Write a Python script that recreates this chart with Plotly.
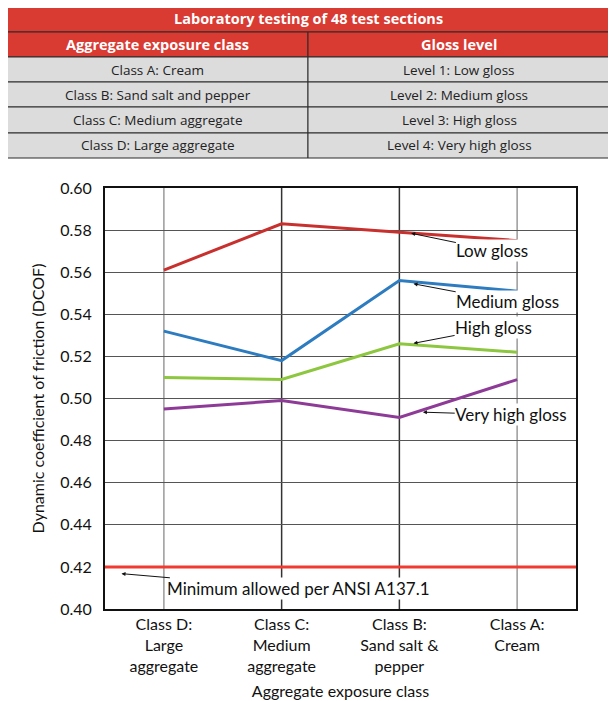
import plotly.graph_objects as go

# page body adds an 8px margin, so the figure is drawn 8px smaller
OFF = 8
W, H = 616 - OFF, 701 - OFF

# ---- data ----
classes = ["Class D:<br>Large<br>aggregate", "Class C:<br>Medium<br>aggregate",
           "Class B:<br>Sand salt &<br>pepper", "Class A:<br>Cream"]
low_gloss = [0.561, 0.583, 0.579, 0.575]
medium_gloss = [0.532, 0.518, 0.556, 0.551]
high_gloss = [0.510, 0.509, 0.526, 0.522]
very_high_gloss = [0.495, 0.499, 0.491, 0.509]
minimum_dcof = 0.42

table_title = "Laboratory testing of 48 test sections"
table_header = ["Aggregate exposure class", "Gloss level"]
exposure_rows = ["Class A: Cream", "Class B: Sand salt and pepper",
                 "Class C: Medium aggregate", "Class D: Large aggregate"]
gloss_rows = ["Level 1: Low gloss", "Level 2: Medium gloss",
              "Level 3: High gloss", "Level 4: Very high gloss"]
y_ticks = [0.40, 0.42, 0.44, 0.46, 0.48, 0.50, 0.52, 0.54, 0.56, 0.58, 0.60]


def py(px):
    # screen pixel row -> paper y
    return 1 - (px - OFF) / H


def pxx(px):
    return (px - OFF) / W


CHART_FONT = "Lato"
TABLE_FONT = "Open Sans"
RED_HDR = "#d93a31"
GRAY_CELL = "#dcdcdc"
EDGE = "#2a2a2a"

fig = go.Figure()

# ---- lines ----
series = [
    ("Low gloss", low_gloss, "#c8302e"),
    ("Medium gloss", medium_gloss, "#2d7cc0"),
    ("High gloss", high_gloss, "#8dc63f"),
    ("Very high gloss", very_high_gloss, "#8e3b98"),
]
for name, vals, col in series:
    fig.add_trace(go.Scatter(x=classes, y=vals, mode="lines", name=name,
                             line=dict(color=col, width=3), showlegend=False))

# vertical grid lines (outer ones lighter)
vcolors = ["#9a9a9a", "#333333", "#333333", "#9a9a9a"]
for i, vc in enumerate(vcolors):
    fig.add_shape(type="line", xref="x", yref="paper", x0=i, x1=i,
                  y0=py(609), y1=py(188),
                  line=dict(color=vc, width=1.5), layer="below")

# minimum line
fig.add_shape(type="line", xref="paper", yref="y", x0=pxx(105), x1=pxx(576),
              y0=minimum_dcof, y1=minimum_dcof,
              line=dict(color="#f23b30", width=3), layer="above")

# ---- table drawn with shapes + text ----
TL, TR, TMID = 7, 610, 308
row_edges = [6, 32, 57, 82, 107, 133, 158]


def cell(x0, x1, y0, y1, fill):
    fig.add_shape(type="rect", xref="paper", yref="paper",
                  x0=pxx(x0), x1=pxx(x1), y0=py(y1), y1=py(y0),
                  fillcolor=fill, line=dict(color=EDGE, width=1))


def cell_text(xc, yc, txt, size, color, bold=False):
    fig.add_annotation(xref="paper", yref="paper", x=pxx(xc), y=py(yc),
                       xanchor="center", yanchor="middle",
                       text=f"<b>{txt}</b>" if bold else txt, showarrow=False,
                       font=dict(family=TABLE_FONT, size=size, color=color))


# title row
cell(TL, TR, row_edges[0], row_edges[1], RED_HDR)
cell_text((TL + TR) / 2, (row_edges[0] + row_edges[1]) / 2, table_title,
          14.5, "white", bold=True)
# header row
for k, h in enumerate(table_header):
    a, b = (TL, TMID) if k == 0 else (TMID, TR)
    cell(a, b, row_edges[1], row_edges[2], RED_HDR)
    cell_text((a + b) / 2, (row_edges[1] + row_edges[2]) / 2, h,
              14.5, "white", bold=True)
# body rows
for r, (left_txt, right_txt) in enumerate(zip(exposure_rows, gloss_rows)):
    y0, y1 = row_edges[r + 2], row_edges[r + 3]
    for k, txt in enumerate((left_txt, right_txt)):
        a, b = (TL, TMID) if k == 0 else (TMID, TR)
        cell(a, b, y0, y1, GRAY_CELL)
        cell_text((a + b) / 2, (y0 + y1) / 2, txt, 13.5, "#222222")

# callouts
callouts = [
    ("Low gloss", 2.1, 0.5785, 2.79, 0.5705),
    ("Medium gloss", 2.12, 0.5545, 2.92, 0.546),
    ("High gloss", 2.12, 0.5262, 2.80, 0.5335),
    ("Very high gloss", 2.2, 0.4935, 2.95, 0.4922),
    ("Minimum allowed per ANSI A137.1", -0.36, 0.4168, 1.14, 0.4096),
]
for txt, x0, y0, tx, ty in callouts:
    fig.add_annotation(x=x0, y=y0, ax=tx, ay=ty, axref="x", ayref="y",
                       text=txt, showarrow=True, arrowhead=2, arrowsize=0.8,
                       arrowwidth=1, arrowcolor="#111111", bgcolor="white",
                       borderpad=0,
                       font=dict(family=CHART_FONT, size=17, color="#111111"))

fig.update_layout(
    width=W, height=H,
    margin=dict(l=0, r=0, t=0, b=0),
    paper_bgcolor="white", plot_bgcolor="white",
    font=dict(family=CHART_FONT, size=15, color="#111111"),
    xaxis=dict(domain=[pxx(105), pxx(576)], range=[-0.5, 3.5], automargin=False,
               showgrid=False, showline=True, linecolor="#111111", linewidth=2,
               mirror=True, ticks="", tickfont=dict(size=16),
               title=dict(text="Aggregate exposure class", standoff=12,
                          font=dict(size=16))),
    yaxis=dict(domain=[py(609), py(188)], range=[0.40, 0.60], automargin=False,
               tickvals=y_ticks, tickformat=".2f",
               showgrid=True, gridcolor="#555555", gridwidth=1,
               showline=True, linecolor="#111111", linewidth=2, mirror=True,
               ticks="", ticklabelstandoff=8, tickfont=dict(size=16),
               zeroline=False,
               title=dict(text="Dynamic coefficient of friction (DCOF)",
                          standoff=12, font=dict(size=16))),
)

fig.write_html("out.html")
